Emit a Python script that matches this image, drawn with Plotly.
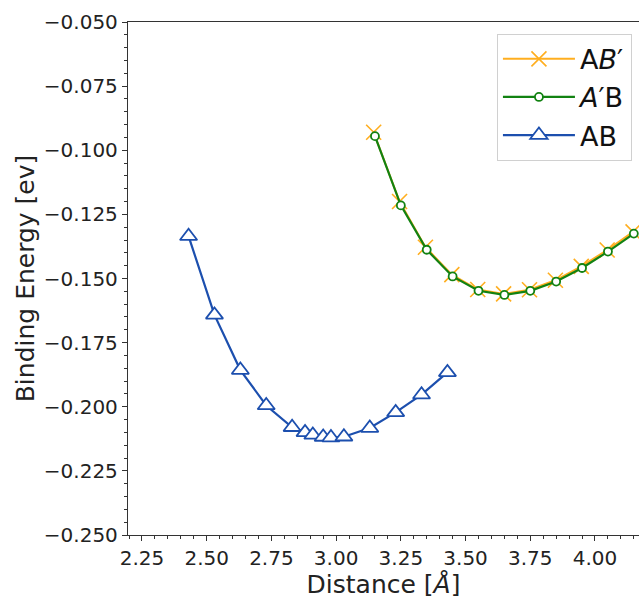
import plotly.graph_objects as go

# AB' (orange crosses)
ab_p_x = [3.145, 3.245, 3.345, 3.447, 3.547, 3.647, 3.747, 3.847, 3.947, 4.047, 4.147]
ab_p_y = [-0.0930, -0.1200, -0.1378, -0.1485, -0.1543, -0.1560, -0.1544, -0.1507, -0.1453, -0.1389, -0.1318]

# A'B (green circles)
a_pb_x = [3.15, 3.25, 3.35, 3.45, 3.55, 3.65, 3.75, 3.85, 3.95, 4.05, 4.15]
a_pb_y = [-0.0945, -0.1215, -0.1388, -0.1492, -0.1548, -0.1564, -0.1548, -0.1512, -0.1459, -0.1395, -0.1325]

# AB (blue triangles)
ab_x = [2.43, 2.53, 2.63, 2.73, 2.83, 2.88, 2.91, 2.95, 2.98, 3.03, 3.13, 3.23, 3.33, 3.43]
ab_y = [-0.1335, -0.1642, -0.1857, -0.1995, -0.2080, -0.2100, -0.2110, -0.2118, -0.2120, -0.2117, -0.2083, -0.2022, -0.1953, -0.1866]

x_ticks = [2.25, 2.50, 2.75, 3.00, 3.25, 3.50, 3.75, 4.00]
y_ticks = [-0.050, -0.075, -0.100, -0.125, -0.150, -0.175, -0.200, -0.225, -0.250]

ORANGE = "#FFAE1F"
GREEN = "#128212"
BLUE = "#1C4FAE"
FONT = "DejaVu Sans"

fig = go.Figure()
fig.add_trace(go.Scatter(
    x=ab_p_x, y=ab_p_y, mode="lines+markers", name="A<i>B</i>′",
    legendgroup="g1",
    line=dict(color=ORANGE, width=2),
    marker=dict(symbol="x-thin", size=15, line=dict(color=ORANGE, width=1.6)),
))
fig.add_trace(go.Scatter(
    x=a_pb_x, y=a_pb_y, mode="lines+markers", name="<i>A</i>′B",
    legendgroup="g2",
    line=dict(color=GREEN, width=2.2),
    marker=dict(symbol="circle", size=8, color="white", line=dict(color=GREEN, width=1.8)),
))
fig.add_trace(go.Scatter(
    x=ab_x, y=ab_y, mode="lines+markers", name="AB",
    legendgroup="g3",
    line=dict(color=BLUE, width=2.2),
    marker=dict(symbol="triangle-up", size=15, color="white", line=dict(color=BLUE, width=1.8)),
))

axis_common = dict(
    showgrid=False, zeroline=False, showline=True, linecolor="#333333", linewidth=1.3,
    ticks="outside", ticklen=5, tickwidth=1.2, tickcolor="#333333",
    tickfont=dict(family=FONT, size=20, color="#222222"),
)

fig.update_xaxes(
    **axis_common,
    range=[2.196, 4.170], tickvals=x_ticks, ticktext=[f"{v:.2f}" for v in x_ticks],
    mirror=True,
    minor=dict(dtick=0.05, tick0=2.25, ticks="outside", ticklen=3, tickwidth=1, tickcolor="#333333"),
    title=dict(text="Distance [<i>Å</i>]", font=dict(family=FONT, size=25, color="#222222"), standoff=3),
)
fig.update_yaxes(
    **axis_common,
    range=[-0.25, -0.05], tickvals=y_ticks, ticktext=[f"{v:.3f}".replace("-", "\u2212") for v in y_ticks],
    minor=dict(dtick=0.005, tick0=-0.25, ticks="outside", ticklen=3, tickwidth=1, tickcolor="#333333"),
    title=dict(text="Binding Energy [ev]", font=dict(family=FONT, size=25, color="#222222"), standoff=2),
)

fig.update_layout(
    width=639, height=601,
    margin=dict(l=128, r=0, t=22, b=66, autoexpand=False),
    paper_bgcolor="white", plot_bgcolor="white",
    showlegend=True,
    legend=dict(
        x=0.722, y=0.977, xanchor="left", yanchor="top",
        bgcolor="white", bordercolor="#d0d0d0", borderwidth=1,
        font=dict(family=FONT, size=27, color="#111111"),
        traceorder="grouped", tracegroupgap=0, itemwidth=72,
    ),
)

fig.write_html("out.html")
